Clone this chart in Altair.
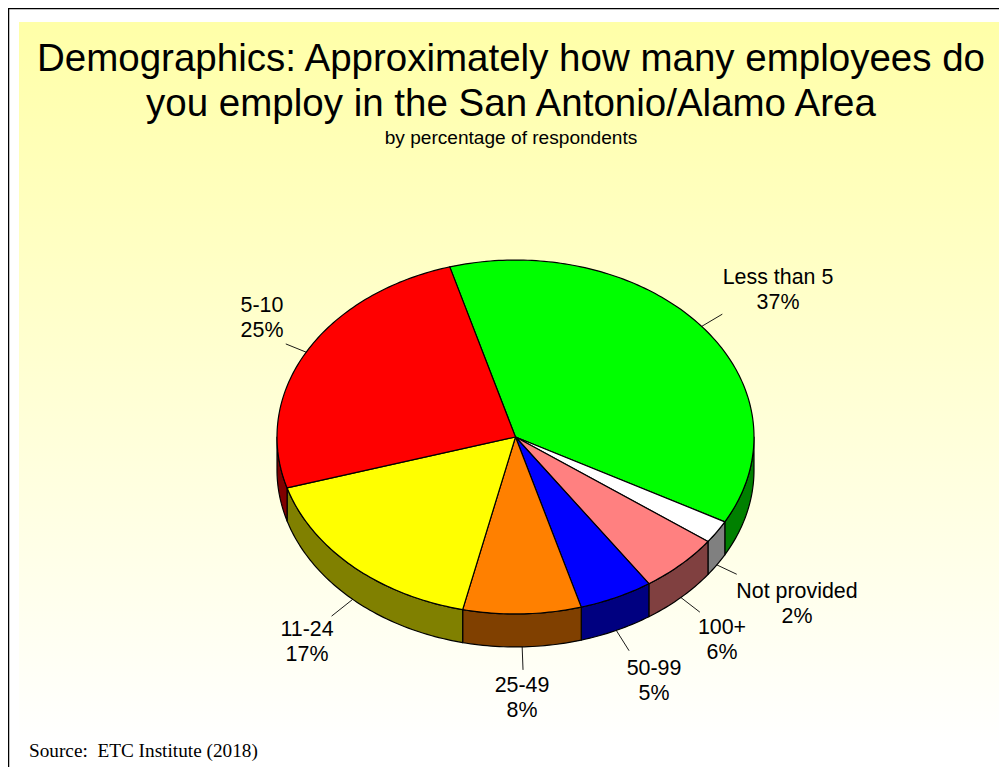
import math
import altair as alt

# ---- data ----
categories = ["Less than 5", "Not provided", "100+", "50-99", "25-49", "11-24", "5-10"]
percent = [37.4, 2.1, 5.5, 5.0, 8.0, 16.8, 25.2]
top_colors = ["#00FF00", "#FFFFFF", "#FF8080", "#0000FF", "#FF8000", "#FFFF00", "#FF0000"]
wall_colors = ["#008000", "#808080", "#804040", "#000080", "#804000", "#808000", "#800000"]
title_lines = ["Demographics: Approximately how many employees do",
               "you employ in the San Antonio/Alamo Area"]
subtitle = "by percentage of respondents"
source = "Source:\u00a0 ETC Institute (2018)"

# ---- layout (page pixels minus the 8px margin) ----
OFF = 8
W, H = 991, 759
CX, CY = 515.5 - OFF, 437 - OFF
RX = 238.5
RATIO = 0.742
DEPTH = 33 / RX
START = -16.0
label_centres = [(778, 278), (797, 592), (722, 628), (654, 669), (522, 686), (307, 630), (262, 306)]
leader_len = [24, 22, 24, 24, 23, 27, 22]


def rim(deg, drop=0.0):
    a = math.radians(deg)
    return [math.sin(a), -math.cos(a) * RATIO + drop]


def feature(coords, color, kind="Polygon"):
    geom = {"type": kind, "coordinates": [coords] if kind == "Polygon" else coords}
    return {"type": "Feature", "geometry": geom, "properties": {"fill": color}}


def arc_angles(a, b):
    n = max(2, int(abs(b - a)) + 1)
    return [a + (b - a) * i / n for i in range(n + 1)]


tops, walls, leaders, mids = [], [], [], []
angle = START
for pct, top, wall in zip(percent, top_colors, wall_colors):
    end = angle + pct * 3.6
    ring = [rim(d) for d in arc_angles(angle, end)]
    tops.append(feature([[0, 0]] + ring + [[0, 0]], top))
    lo, hi = max(angle, 90), min(end, 270)
    if hi > lo:
        sweep = arc_angles(lo, hi)
        upper = [rim(d) for d in sweep]
        lower = [rim(d, DEPTH) for d in reversed(sweep)]
        walls.append(feature(upper + lower + [upper[0]], wall))
    mids.append((angle + end) / 2)
    angle = end

for mid, length in zip(mids, leader_len):
    a = math.radians(mid)
    drop = DEPTH if 90 < mid < 270 else 0.0
    p = rim(mid, drop)
    norm = math.hypot(math.sin(a), math.cos(a) * RATIO)
    q = [p[0] + math.sin(a) / norm * length / RX, p[1] - math.cos(a) * RATIO / norm * length / RX]
    leaders.append(feature([p, q], "none", "LineString"))

proj = dict(type="identity", scale=RX, translate=[CX, CY])
blank = alt.Chart(alt.Data(values=[{"a": 1}]))

background = blank.mark_rect(
    fill=alt.Gradient(gradient="linear", x1=0, y1=0, x2=0, y2=1,
                      stops=[alt.GradientStop(color="#FFFFA8", offset=0),
                             alt.GradientStop(color="#FFFFFF", offset=1)])
).encode(x=alt.value(19 - OFF), x2=alt.value(W), y=alt.value(22 - OFF), y2=alt.value(745 - OFF))
frame_top = blank.mark_rule(color="black", strokeWidth=1.5).encode(
    x=alt.value(0), x2=alt.value(W), y=alt.value(0.5))
frame_left = blank.mark_rule(color="black", strokeWidth=1.5).encode(
    y=alt.value(0), y2=alt.value(H), x=alt.value(0.5))


def geo_layer(features, **mark):
    return alt.Chart(alt.Data(values=features)).mark_geoshape(
        stroke="black", strokeWidth=1.2, strokeJoin="round", **mark
    ).encode(fill=alt.Fill("properties.fill:N", scale=None)).project(**proj)


wall_layer = geo_layer(walls)
top_layer = geo_layer(tops)
leader_layer = alt.Chart(alt.Data(values=leaders)).mark_geoshape(
    filled=False, stroke="black", strokeWidth=0.9
).project(**proj)

label_rows = []
for name, pct, (x, y) in zip(categories, percent, label_centres):
    label_rows.append({"t": name, "x": x - OFF, "y": y - OFF})
    label_rows.append({"t": f"{round(pct)}%", "x": x - OFF, "y": y + 25 - OFF})
labels = alt.Chart(alt.Data(values=label_rows)).mark_text(
    font="Liberation Sans", fontSize=21.4, color="black", align="center", baseline="middle"
).encode(x=alt.X("x:Q", scale=None), y=alt.Y("y:Q", scale=None), text="t:N")

title_rows = [{"t": title_lines[0], "y": 58.5 - OFF}, {"t": title_lines[1], "y": 104 - OFF}]
title = alt.Chart(alt.Data(values=title_rows)).mark_text(
    font="Liberation Sans", fontSize=38.5, color="black", align="center", baseline="middle"
).encode(x=alt.value(511 - OFF), y=alt.Y("y:Q", scale=None), text="t:N")
sub = alt.Chart(alt.Data(values=[{"t": subtitle}])).mark_text(
    font="Liberation Sans", fontSize=19.1, color="black", align="center", baseline="middle"
).encode(x=alt.value(511 - OFF), y=alt.value(138 - OFF), text="t:N")
src = alt.Chart(alt.Data(values=[{"t": source}])).mark_text(
    font="Liberation Serif", fontSize=19.25, color="black", align="left", baseline="middle"
).encode(x=alt.value(29 - OFF), y=alt.value(751 - OFF), text="t:N")

chart = alt.layer(
    background, frame_top, frame_left, wall_layer, top_layer, leader_layer, labels, title, sub, src
).properties(
    width=W, height=H, padding=0, autosize=alt.AutoSizeParams(type="none"), background="white"
).configure_view(stroke=None)

chart.save("out.html", embed_options={"renderer": "svg", "actions": False})
